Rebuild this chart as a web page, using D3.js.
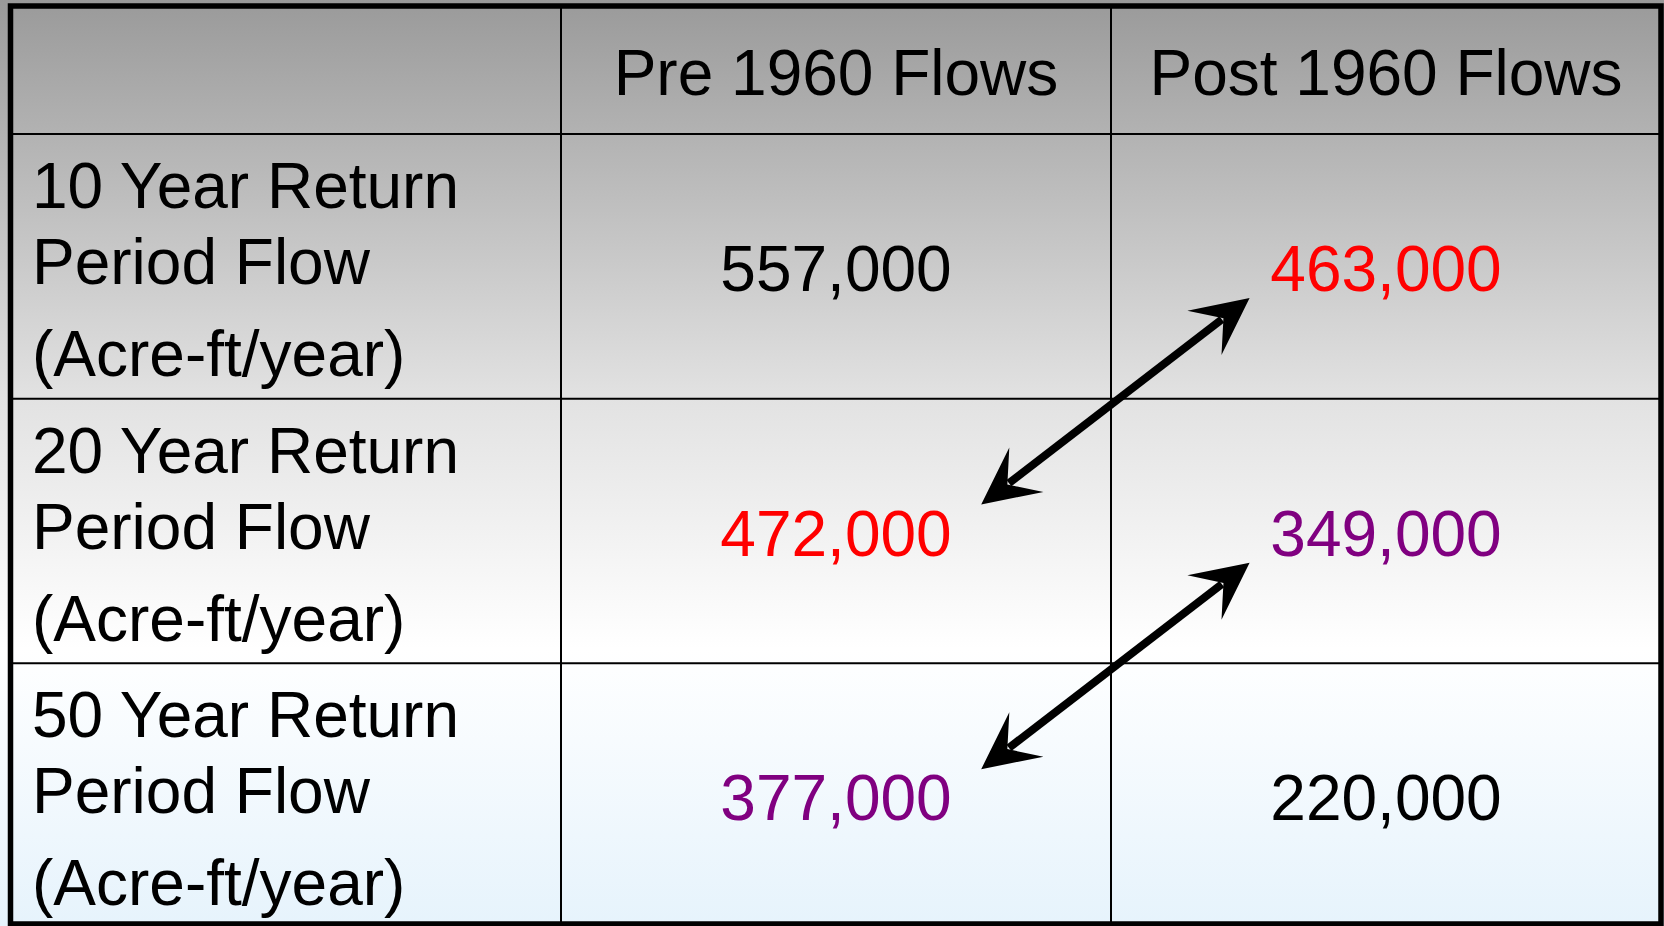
<!DOCTYPE html>
<html>
<head>
<meta charset="utf-8">
<script src="https://cdn.jsdelivr.net/npm/d3@7"></script>
<style>
  body { margin: 0; overflow: hidden; }
  svg text { font-family: "Liberation Sans", Arial, sans-serif; }
</style>
</head>
<body>
<svg class="chart"></svg>
<script>
const columns = ["Pre 1960 Flows", "Post 1960 Flows"],
      returnPeriods = ["10 Year Return", "20 Year Return", "50 Year Return"],
      labelLine2 = "Period Flow",
      unitLabel = "(Acre-ft/year)",
      pre1960 = [557000, 472000, 377000],
      post1960 = [463000, 349000, 220000]

// matching values between the two periods: [pre row, post row, colour]
const comparisons = [
  { pre: 1, post: 0, color: "#ff0000" },
  { pre: 2, post: 1, color: "#800080" }
]

const width = 1664,
      height = 926,
      tLeft = 10.5,
      tRight = 1661,
      tTop = 6,
      tBottom = 924,
      headerBottom = 134,
      fontSize = 64

const chart = d3.select(".chart")
    .attr("width", width)
    .attr("height", height)

const defs = chart.append("defs")
const grad = defs.append("linearGradient")
    .attr("id", "bg")
    .attr("x1", 0).attr("y1", 0).attr("x2", 0).attr("y2", 1)
grad.selectAll("stop")
    .data([[0, "#9a9a9a"], [0.43, "#e2e2e2"], [0.7, "#ffffff"], [1, "#e6f3fc"]])
    .enter().append("stop")
    .attr("offset", d => d[0])
    .attr("stop-color", d => d[1])

chart.append("rect")
    .attr("width", width)
    .attr("height", height)
    .attr("fill", "url(#bg)")

const x = d3.scaleBand().domain(columns).range([561, tRight])
const y = d3.scaleBand().domain(returnPeriods).range([headerBottom, 928])
const fmt = d3.format(",")

function valueColor(col, i) {
  const c = comparisons.find(d => (col === 0 ? d.pre : d.post) === i)
  return c ? c.color : "#000"
}

// grid lines
const grid = chart.append("g").attr("stroke", "#000").attr("stroke-width", 2)
grid.selectAll(".vline")
    .data(columns)
    .enter().append("line")
    .attr("x1", d => x(d)).attr("x2", d => x(d))
    .attr("y1", tTop).attr("y2", tBottom)
grid.selectAll(".hline")
    .data(returnPeriods)
    .enter().append("line")
    .attr("x1", tLeft).attr("x2", tRight)
    .attr("y1", d => y(d)).attr("y2", d => y(d))

chart.append("rect")
    .attr("x", tLeft).attr("y", tTop)
    .attr("width", tRight - tLeft).attr("height", tBottom - tTop)
    .attr("fill", "none")
    .attr("stroke", "#000")
    .attr("stroke-width", 5.5)

// header
chart.append("g").selectAll("text")
    .data(columns)
    .enter().append("text")
    .attr("x", d => x(d) + x.bandwidth() / 2)
    .attr("y", (tTop + headerBottom) / 2 + 25)
    .attr("text-anchor", "middle")
    .attr("font-size", fontSize)
    .text(d => d)

// row labels
const labels = chart.append("g").selectAll("text")
    .data(returnPeriods)
    .enter().append("text")
    .attr("font-size", fontSize)
labels.append("tspan").attr("x", 32).attr("y", d => y(d) + 74).text(d => d)
labels.append("tspan").attr("x", 32).attr("y", d => y(d) + 150).text(labelLine2)
labels.append("tspan").attr("x", 32).attr("y", d => y(d) + 242).text(unitLabel)

// values
const cells = []
returnPeriods.forEach((r, i) => {
  cells.push({ row: r, col: 0, value: pre1960[i], i })
  cells.push({ row: r, col: 1, value: post1960[i], i })
})
chart.append("g").selectAll("text")
    .data(cells)
    .enter().append("text")
    .attr("x", d => x(columns[d.col]) + x.bandwidth() / 2)
    .attr("y", d => y(d.row) + y.bandwidth() / 2 + 24.5)
    .attr("text-anchor", "middle")
    .attr("font-size", fontSize)
    .attr("fill", d => valueColor(d.col, d.i))
    .text(d => fmt(d.value))

// double headed arrows linking matching values
function head(tx, ty, ux, uy) {
  const nx = -uy, ny = ux
  const p = (b, s) => [tx - ux * b + nx * s, ty - uy * b + ny * s]
  return [[tx, ty], p(57, 28), p(33, 0), p(57, -28)]
}

const arrows = chart.append("g")
comparisons.forEach(c => {
  const x0 = x(columns[0]) + x.bandwidth() * 0.764,
        y0 = y(returnPeriods[c.pre]) + y.bandwidth() * 0.40,
        x1 = x(columns[1]) + x.bandwidth() * 0.252,
        y1 = y(returnPeriods[c.post]) + y.bandwidth() * 0.62
  const len = Math.hypot(x1 - x0, y1 - y0),
        ux = (x1 - x0) / len,
        uy = (y1 - y0) / len
  arrows.append("line")
      .attr("x1", x0 + ux * 35).attr("y1", y0 + uy * 35)
      .attr("x2", x1 - ux * 35).attr("y2", y1 - uy * 35)
      .attr("stroke", "#000")
      .attr("stroke-width", 8)
  arrows.append("path")
      .attr("d", d3.line()(head(x1, y1, ux, uy)) + "Z")
      .attr("fill", "#000")
  arrows.append("path")
      .attr("d", d3.line()(head(x0, y0, -ux, -uy)) + "Z")
      .attr("fill", "#000")
})
</script>
</body>
</html>
